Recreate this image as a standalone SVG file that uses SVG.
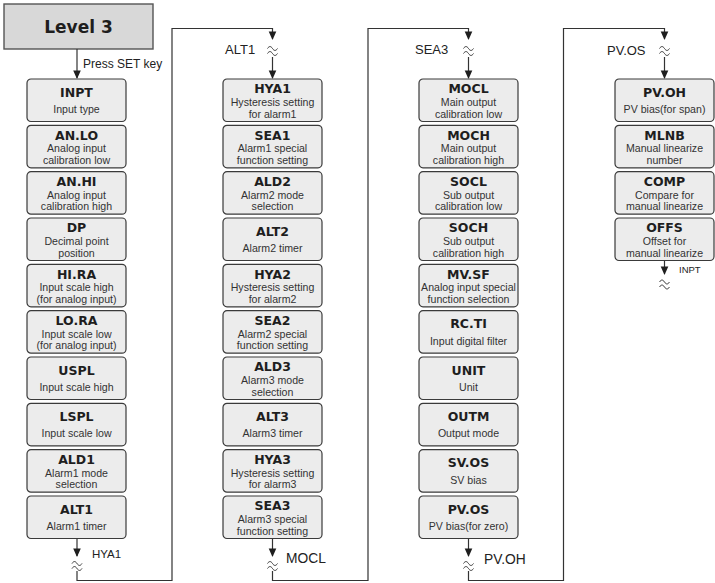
<svg xmlns="http://www.w3.org/2000/svg" xmlns:xlink="http://www.w3.org/1999/xlink" width="715" height="583" viewBox="0 0 715 583">
<style>
.bx{fill:#ececec;stroke:#3a3a3a;stroke-width:1.2}
.tt{font-family:"DejaVu Sans",Verdana,sans-serif;font-weight:bold;font-size:12.5px;fill:#1e1e1e;text-anchor:middle}
.st{font-family:"Liberation Sans",Arial,sans-serif;font-size:10.6px;fill:#333;text-anchor:middle}
.ln{fill:none;stroke:#333;stroke-width:1.2}
.lb{font-family:"Liberation Sans",Arial,sans-serif;fill:#222}
.brk{fill:none;stroke:#333;stroke-width:1}
.ah{fill:#1e1e1e}
</style>
<defs>
<path id="ah" d="M-3.8,-8.5 L3.8,-8.5 L0,0 Z"/>
<path id="brk" d="M-5,-1.5 c1.7,-2.6 3.3,-2.6 5,0 s3.3,2.6 5,0 M-5,3.5 c1.7,-2.6 3.3,-2.6 5,0 s3.3,2.6 5,0"/>
</defs>

<g id="level3">
<rect x="4" y="4" width="149" height="45" fill="#d8d8d8" stroke="#555" stroke-width="1.4"/>
<text x="78.5" y="33" font-family="DejaVu Sans,Verdana,sans-serif" font-weight="bold" font-size="17" fill="#1e1e1e" text-anchor="middle">Level 3</text>
</g>

<g id="connectors">
<path class="ln" d="M77,49 V78"/>
<use href="#ah" x="77" y="79" class="ah"/>
<text class="lb" x="83" y="68" font-size="12">Press SET key</text>

<!-- col1 -> col2 -->
<path class="ln" d="M77,538.5 V556"/>
<use href="#ah" x="77" y="557" class="ah"/>
<use href="#brk" x="77" y="565" class="brk"/>
<path class="ln" d="M77,571 V580.5 H172 V28.5 H272.5 V39"/>
<use href="#ah" x="272.5" y="40" class="ah"/>
<use href="#brk" x="272.5" y="50" class="brk"/>
<path class="ln" d="M272.5,57 V78"/>
<use href="#ah" x="272.5" y="79" class="ah"/>
<text class="lb" x="92" y="558" font-size="11.5">HYA1</text>
<text class="lb" x="225" y="54" font-size="13">ALT1</text>

<!-- col2 -> col3 -->
<path class="ln" d="M272.5,538.5 V556"/>
<use href="#ah" x="272.5" y="557" class="ah"/>
<use href="#brk" x="272.5" y="565" class="brk"/>
<path class="ln" d="M272.5,571 V580.5 H368 V28.5 H468.5 V39"/>
<use href="#ah" x="468.5" y="40" class="ah"/>
<use href="#brk" x="468.5" y="50" class="brk"/>
<path class="ln" d="M468.5,57 V78"/>
<use href="#ah" x="468.5" y="79" class="ah"/>
<text class="lb" x="286" y="563" font-size="13.8">MOCL</text>
<text class="lb" x="415" y="54" font-size="13">SEA3</text>

<!-- col3 -> col4 -->
<path class="ln" d="M468.5,538.5 V556"/>
<use href="#ah" x="468.5" y="557" class="ah"/>
<use href="#brk" x="468.5" y="565" class="brk"/>
<path class="ln" d="M468.5,571 V580.5 H563.5 V28.5 H664.5 V39"/>
<use href="#ah" x="664.5" y="40" class="ah"/>
<use href="#brk" x="664.5" y="50" class="brk"/>
<path class="ln" d="M664.5,57 V78"/>
<use href="#ah" x="664.5" y="79" class="ah"/>
<text class="lb" x="484" y="564" font-size="13.8">PV.OH</text>
<text class="lb" x="607" y="55" font-size="13">PV.OS</text>

<!-- col4 end -->
<path class="ln" d="M664.5,261 V274"/>
<use href="#ah" x="664.5" y="275" class="ah"/>
<use href="#brk" x="664.5" y="283.5" class="brk"/>
<text class="lb" x="679" y="273" font-size="9.5">INPT</text>
</g>

<!-- Column 1 -->
<g id="n-inpt" transform="translate(27,79)"><rect class="bx" width="99" height="42.5" rx="4"/><text class="tt" x="49.5" y="17.5">INPT</text><text class="st" x="49.5" y="34">Input type</text></g>
<g id="n-anlo" transform="translate(27,125.33)"><rect class="bx" width="99" height="42.5" rx="4"/><text class="tt" x="49.5" y="14.3">AN.LO</text><text class="st" x="49.5" y="27">Analog input</text><text class="st" x="49.5" y="38.7">calibration low</text></g>
<g id="n-anhi" transform="translate(27,171.67)"><rect class="bx" width="99" height="42.5" rx="4"/><text class="tt" x="49.5" y="14.3">AN.HI</text><text class="st" x="49.5" y="27">Analog input</text><text class="st" x="49.5" y="38.7">calibration high</text></g>
<g id="n-dp" transform="translate(27,218)"><rect class="bx" width="99" height="42.5" rx="4"/><text class="tt" x="49.5" y="14.3">DP</text><text class="st" x="49.5" y="27">Decimal point</text><text class="st" x="49.5" y="38.7">position</text></g>
<g id="n-hira" transform="translate(27,264.33)"><rect class="bx" width="99" height="42.5" rx="4"/><text class="tt" x="49.5" y="14.3">HI.RA</text><text class="st" x="49.5" y="27">Input scale high</text><text class="st" x="49.5" y="38.7">(for analog input)</text></g>
<g id="n-lora" transform="translate(27,310.67)"><rect class="bx" width="99" height="42.5" rx="4"/><text class="tt" x="49.5" y="14.3">LO.RA</text><text class="st" x="49.5" y="27">Input scale low</text><text class="st" x="49.5" y="38.7">(for analog input)</text></g>
<g id="n-uspl" transform="translate(27,357)"><rect class="bx" width="99" height="42.5" rx="4"/><text class="tt" x="49.5" y="17.5">USPL</text><text class="st" x="49.5" y="34">Input scale high</text></g>
<g id="n-lspl" transform="translate(27,403.33)"><rect class="bx" width="99" height="42.5" rx="4"/><text class="tt" x="49.5" y="17.5">LSPL</text><text class="st" x="49.5" y="34">Input scale low</text></g>
<g id="n-ald1" transform="translate(27,449.67)"><rect class="bx" width="99" height="42.5" rx="4"/><text class="tt" x="49.5" y="14.3">ALD1</text><text class="st" x="49.5" y="27">Alarm1 mode</text><text class="st" x="49.5" y="38.7">selection</text></g>
<g id="n-alt1" transform="translate(27,496)"><rect class="bx" width="99" height="42.5" rx="4"/><text class="tt" x="49.5" y="17.5">ALT1</text><text class="st" x="49.5" y="34">Alarm1 timer</text></g>

<!-- Column 2 -->
<g id="n-hya1" transform="translate(223,79)"><rect class="bx" width="99" height="42.5" rx="4"/><text class="tt" x="49.5" y="14.3">HYA1</text><text class="st" x="49.5" y="27">Hysteresis setting</text><text class="st" x="49.5" y="38.7">for alarm1</text></g>
<g id="n-sea1" transform="translate(223,125.33)"><rect class="bx" width="99" height="42.5" rx="4"/><text class="tt" x="49.5" y="14.3">SEA1</text><text class="st" x="49.5" y="27">Alarm1 special</text><text class="st" x="49.5" y="38.7">function setting</text></g>
<g id="n-ald2" transform="translate(223,171.67)"><rect class="bx" width="99" height="42.5" rx="4"/><text class="tt" x="49.5" y="14.3">ALD2</text><text class="st" x="49.5" y="27">Alarm2 mode</text><text class="st" x="49.5" y="38.7">selection</text></g>
<g id="n-alt2" transform="translate(223,218)"><rect class="bx" width="99" height="42.5" rx="4"/><text class="tt" x="49.5" y="17.5">ALT2</text><text class="st" x="49.5" y="34">Alarm2 timer</text></g>
<g id="n-hya2" transform="translate(223,264.33)"><rect class="bx" width="99" height="42.5" rx="4"/><text class="tt" x="49.5" y="14.3">HYA2</text><text class="st" x="49.5" y="27">Hysteresis setting</text><text class="st" x="49.5" y="38.7">for alarm2</text></g>
<g id="n-sea2" transform="translate(223,310.67)"><rect class="bx" width="99" height="42.5" rx="4"/><text class="tt" x="49.5" y="14.3">SEA2</text><text class="st" x="49.5" y="27">Alarm2 special</text><text class="st" x="49.5" y="38.7">function setting</text></g>
<g id="n-ald3" transform="translate(223,357)"><rect class="bx" width="99" height="42.5" rx="4"/><text class="tt" x="49.5" y="14.3">ALD3</text><text class="st" x="49.5" y="27">Alarm3 mode</text><text class="st" x="49.5" y="38.7">selection</text></g>
<g id="n-alt3" transform="translate(223,403.33)"><rect class="bx" width="99" height="42.5" rx="4"/><text class="tt" x="49.5" y="17.5">ALT3</text><text class="st" x="49.5" y="34">Alarm3 timer</text></g>
<g id="n-hya3" transform="translate(223,449.67)"><rect class="bx" width="99" height="42.5" rx="4"/><text class="tt" x="49.5" y="14.3">HYA3</text><text class="st" x="49.5" y="27">Hysteresis setting</text><text class="st" x="49.5" y="38.7">for alarm3</text></g>
<g id="n-sea3" transform="translate(223,496)"><rect class="bx" width="99" height="42.5" rx="4"/><text class="tt" x="49.5" y="14.3">SEA3</text><text class="st" x="49.5" y="27">Alarm3 special</text><text class="st" x="49.5" y="38.7">function setting</text></g>

<!-- Column 3 -->
<g id="n-mocl" transform="translate(419,79)"><rect class="bx" width="99" height="42.5" rx="4"/><text class="tt" x="49.5" y="14.3">MOCL</text><text class="st" x="49.5" y="27">Main output</text><text class="st" x="49.5" y="38.7">calibration low</text></g>
<g id="n-moch" transform="translate(419,125.33)"><rect class="bx" width="99" height="42.5" rx="4"/><text class="tt" x="49.5" y="14.3">MOCH</text><text class="st" x="49.5" y="27">Main output</text><text class="st" x="49.5" y="38.7">calibration high</text></g>
<g id="n-socl" transform="translate(419,171.67)"><rect class="bx" width="99" height="42.5" rx="4"/><text class="tt" x="49.5" y="14.3">SOCL</text><text class="st" x="49.5" y="27">Sub output</text><text class="st" x="49.5" y="38.7">calibration low</text></g>
<g id="n-soch" transform="translate(419,218)"><rect class="bx" width="99" height="42.5" rx="4"/><text class="tt" x="49.5" y="14.3">SOCH</text><text class="st" x="49.5" y="27">Sub output</text><text class="st" x="49.5" y="38.7">calibration high</text></g>
<g id="n-mvsf" transform="translate(419,264.33)"><rect class="bx" width="99" height="42.5" rx="4"/><text class="tt" x="49.5" y="14.3">MV.SF</text><text class="st" x="49.5" y="27">Analog input special</text><text class="st" x="49.5" y="38.7">function selection</text></g>
<g id="n-rcti" transform="translate(419,310.67)"><rect class="bx" width="99" height="42.5" rx="4"/><text class="tt" x="49.5" y="17.5">RC.TI</text><text class="st" x="49.5" y="34">Input digital filter</text></g>
<g id="n-unit" transform="translate(419,357)"><rect class="bx" width="99" height="42.5" rx="4"/><text class="tt" x="49.5" y="17.5">UNIT</text><text class="st" x="49.5" y="34">Unit</text></g>
<g id="n-outm" transform="translate(419,403.33)"><rect class="bx" width="99" height="42.5" rx="4"/><text class="tt" x="49.5" y="17.5">OUTM</text><text class="st" x="49.5" y="34">Output mode</text></g>
<g id="n-svos" transform="translate(419,449.67)"><rect class="bx" width="99" height="42.5" rx="4"/><text class="tt" x="49.5" y="17.5">SV.OS</text><text class="st" x="49.5" y="34">SV bias</text></g>
<g id="n-pvos" transform="translate(419,496)"><rect class="bx" width="99" height="42.5" rx="4"/><text class="tt" x="49.5" y="17.5">PV.OS</text><text class="st" x="49.5" y="34">PV bias(for zero)</text></g>

<!-- Column 4 -->
<g id="n-pvoh" transform="translate(615,79)"><rect class="bx" width="99" height="42.5" rx="4"/><text class="tt" x="49.5" y="17.5">PV.OH</text><text class="st" x="49.5" y="34">PV bias(for span)</text></g>
<g id="n-mlnb" transform="translate(615,125.33)"><rect class="bx" width="99" height="42.5" rx="4"/><text class="tt" x="49.5" y="14.3">MLNB</text><text class="st" x="49.5" y="27">Manual linearize</text><text class="st" x="49.5" y="38.7">number</text></g>
<g id="n-comp" transform="translate(615,171.67)"><rect class="bx" width="99" height="42.5" rx="4"/><text class="tt" x="49.5" y="14.3">COMP</text><text class="st" x="49.5" y="27">Compare for</text><text class="st" x="49.5" y="38.7">manual linearize</text></g>
<g id="n-offs" transform="translate(615,218)"><rect class="bx" width="99" height="42.5" rx="4"/><text class="tt" x="49.5" y="14.3">OFFS</text><text class="st" x="49.5" y="27">Offset for</text><text class="st" x="49.5" y="38.7">manual linearize</text></g>
</svg>
